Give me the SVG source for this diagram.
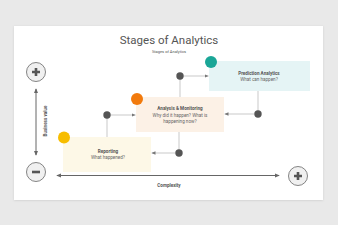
<svg xmlns="http://www.w3.org/2000/svg" width="338" height="225" viewBox="0 0 338 225">
<style>
text{font-family:Roboto,"Liberation Sans",sans-serif;fill:#555}
.b{font-weight:bold;font-size:4.6px;fill:#555}
.n{font-size:4.6px;fill:#666}
.conn{stroke:#bbb;stroke-width:0.8;fill:none}
.arr{stroke:#bbb;stroke-width:0.8;fill:none;marker-end:url(#ah)}
.dot{fill:#555}
.ax{stroke:#666;stroke-width:1;fill:none}
.pm{fill:#f0f0f0;stroke:#666;stroke-width:0.8}
</style>
<defs>
<marker id="ah" viewBox="0 0 6 6" refX="6" refY="3" markerWidth="4" markerHeight="4" orient="auto" markerUnits="userSpaceOnUse"><path d="M0,0.5 L6,3 L0,5.5 z" fill="#777"/></marker>
<marker id="axh" viewBox="0 0 6 6" refX="5" refY="3" markerWidth="5" markerHeight="5" orient="auto-start-reverse" markerUnits="userSpaceOnUse"><path d="M0,0.5 L6,3 L0,5.5 z" fill="#666"/></marker>
<filter id="sh" x="-5%" y="-5%" width="110%" height="115%"><feDropShadow dx="0" dy="0.5" stdDeviation="0.8" flood-color="#000" flood-opacity="0.12"/></filter>
</defs>
<rect width="338" height="225" fill="#e9e9e9"/>
<rect x="14" y="26" width="309" height="174" fill="#fff" filter="url(#sh)"/>
<text x="169" y="44" font-size="11.5" text-anchor="middle" fill="#555">Stages of Analytics</text>
<text x="169" y="53" font-size="4" text-anchor="middle" fill="#666">Stages of Analytics</text>

<g id="axes">
<line class="ax" x1="36" y1="89" x2="36" y2="155" marker-start="url(#axh)" marker-end="url(#axh)"/>
<text x="47" y="121" font-size="4.6" font-weight="bold" text-anchor="middle" transform="rotate(-90 47 121)" fill="#555">Business value</text>
<line class="ax" x1="57" y1="175.5" x2="279" y2="175.5" marker-start="url(#axh)" marker-end="url(#axh)"/>
<text x="169" y="186.5" font-size="4.6" font-weight="bold" text-anchor="middle" fill="#555">Complexity</text>
</g>
<g id="plus-top">
<circle class="pm" cx="36" cy="72" r="9.5"/>
<path d="M32,72 H40 M36,68 V76" stroke="#555" stroke-width="2.6"/>
</g>
<g id="minus">
<circle class="pm" cx="36" cy="172" r="9.5"/>
<path d="M32,172 H40" stroke="#555" stroke-width="2.6"/>
</g>
<g id="plus-right">
<circle class="pm" cx="298" cy="176" r="9.5"/>
<path d="M294,176 H302 M298,172 V180" stroke="#555" stroke-width="2.6"/>
</g>

<g id="connectors">
<line class="conn" x1="107" y1="115" x2="107" y2="137"/>
<line class="arr" x1="107" y1="115" x2="135.5" y2="115"/>
<line class="conn" x1="180" y1="76" x2="180" y2="97"/>
<line class="arr" x1="180" y1="76" x2="208.5" y2="76"/>
<line class="conn" x1="258" y1="91" x2="258" y2="114"/>
<line class="arr" x1="258" y1="114" x2="224.5" y2="114"/>
<line class="conn" x1="179" y1="132" x2="179" y2="153"/>
<line class="arr" x1="179" y1="153" x2="151.5" y2="153"/>
<circle class="dot" cx="107" cy="115" r="3.7"/>
<circle class="dot" cx="180" cy="76" r="3.7"/>
<circle class="dot" cx="258" cy="114" r="3.7"/>
<circle class="dot" cx="179" cy="153" r="3.7"/>
</g>

<g id="reporting">
<rect x="63" y="137" width="88" height="35" fill="#fdf8e7"/>
<circle cx="64" cy="137.5" r="6" fill="#f7bd00"/>
<text class="b" x="108" y="153" text-anchor="middle">Reporting</text>
<text class="n" x="108" y="159" text-anchor="middle">What happened?</text>
</g>
<g id="analysis">
<rect x="136" y="97" width="88" height="35" fill="#fcf1e6"/>
<circle cx="137" cy="99" r="6" fill="#f27a0c"/>
<text class="b" x="180" y="110" text-anchor="middle">Analysis &amp; Monitoring</text>
<text class="n" x="180" y="116.5" text-anchor="middle">Why did it happen? What is</text>
<text class="n" x="180" y="122.5" text-anchor="middle">happening now?</text>
</g>
<g id="predictive">
<rect x="209" y="61" width="101" height="30" fill="#e5f4f5"/>
<circle cx="211" cy="62" r="6" fill="#1aa697"/>
<text class="b" x="259" y="74.5" text-anchor="middle">Prediction Analytics</text>
<text class="n" x="259" y="81" text-anchor="middle">What can happen?</text>
</g>
</svg>
